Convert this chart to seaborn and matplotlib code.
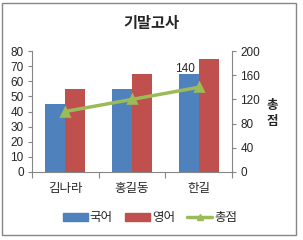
import matplotlib
matplotlib.use("Agg")
import matplotlib.pyplot as plt
import seaborn as sns
import pandas as pd
from matplotlib.patches import Rectangle

students = ["김나라", "홍길동", "한길"]
korean = [45, 55, 65]
english = [55, 65, 75]
total = [100, 120, 140]
series_names = ["국어", "영어", "총점"]

sns.set_style("white")
plt.rcParams['font.family'] = ['Liberation Sans', 'Noto Sans CJK KR', 'DejaVu Sans']

df = pd.DataFrame({
    "student": students * 2,
    "score": korean + english,
    "subject": [series_names[0]] * 3 + [series_names[1]] * 3,
})

blue, red, green = "#4F81BD", "#C0504D", "#9BBB59"
W, H = 303, 240
fig = plt.figure(figsize=(W / 100, H / 100), dpi=100)
ax = fig.add_axes([32 / W, 1 - 172 / H, 200 / W, 121 / H])

sns.barplot(data=df, x="student", y="score", hue="subject",
            palette=[blue, red], width=0.6, ax=ax, saturation=1,
            edgecolor="none", legend=False)
ax.set_xlim(-0.5, 2.5)
ax.set_ylim(0, 80)
ax.set_yticks(range(0, 81, 10))
ax.set_xlabel("")
ax.set_ylabel("")

ax2 = ax.twinx()
sns.pointplot(x=students, y=total, ax=ax2, color=green, markers="^",
              linestyles="-", errorbar=None, markersize=6, linewidth=2.5)
ax2.set_ylim(0, 200)
ax2.set_yticks(range(0, 201, 40))
ax2.set_xlim(-0.5, 2.5)
ax2.set_ylabel("")

gray = "#868686"
for a in (ax, ax2):
    a.spines["top"].set_visible(False)
    for s in ["left", "right", "bottom"]:
        a.spines[s].set_color(gray)
        a.spines[s].set_linewidth(0.8)
ax.spines["right"].set_visible(False)
ax2.spines["left"].set_visible(False)
ax2.spines["bottom"].set_visible(False)

ax.tick_params(axis="y", direction="out", length=3, color=gray, width=0.8,
               labelsize=8.5, pad=3, left=True)
ax2.tick_params(axis="y", direction="out", length=3, color=gray, width=0.8,
                labelsize=8.5, pad=3, right=True)
ax.set_xticks([-0.5, 0.5, 1.5, 2.5], minor=True)
ax.tick_params(axis="x", which="minor", direction="out", length=4, color=gray, width=0.8, bottom=True)
ax.tick_params(axis="x", which="major", length=0, labelsize=9, pad=8)

ax2.annotate(str(total[2]), xy=(2, total[2]), xytext=(-14, 18),
             textcoords="offset pixels", ha="center", va="center", fontsize=8.5)

fig.text(272 / W, 1 - 114 / H, "총\n점", ha="center", va="center",
         fontsize=9, linespacing=1.5, fontweight="bold")
fig.text(151 / W, 1 - 24 / H, "기말고사", ha="center", va="center",
         fontsize=11, fontweight="bold")

handles = [Rectangle((0, 0), 1, 1, color=blue), Rectangle((0, 0), 1, 1, color=red),
           plt.Line2D([], [], color=green, marker="^", markersize=5, linewidth=2.5)]
fig.legend(handles, series_names, loc="center", bbox_to_anchor=(150 / W, 1 - 218 / H),
           ncol=3, frameon=False, fontsize=9, handlelength=2.0, handleheight=0.6,
           columnspacing=1.0, handletextpad=0.15)

fig.patches.append(Rectangle((2 / W, 1 - 235 / H), 294 / W, 232 / H, transform=fig.transFigure,
                             fill=False, edgecolor=gray, linewidth=1))

fig.savefig("out.png", dpi=100)
